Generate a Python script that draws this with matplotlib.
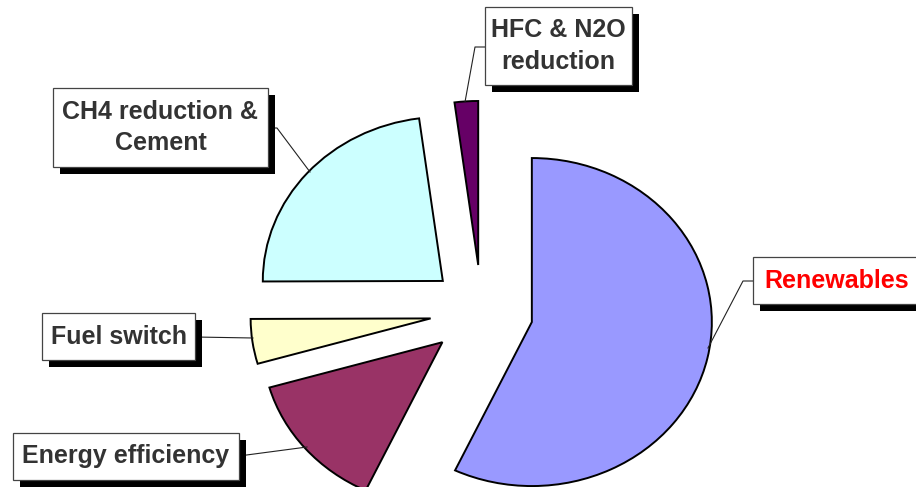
import matplotlib
matplotlib.use("Agg")
import matplotlib.pyplot as plt
from matplotlib.patches import Rectangle
from matplotlib.lines import Line2D

# parts of the abatement, clockwise from 12 o'clock
labels = ["Renewables", "Energy efficiency", "Fuel switch",
          "CH4 reduction &\nCement", "HFC & N2O\nreduction"]
shares = [56.9, 13.5, 4.4, 22.9, 2.1]
colors = ["#9999FF", "#993366", "#FFFFCC", "#CCFFFF", "#660066"]
text_colors = ["#FF0000", "#333333", "#333333", "#333333", "#333333"]

W, H = 916, 487
fig = plt.figure(figsize=(W / 100, H / 100), dpi=100)
ax = fig.add_axes([0, 0, 1, 1])

ax.pie(shares, colors=colors, startangle=90, counterclock=False,
       explode=[0.286] * len(shares),
       wedgeprops=dict(edgecolor="black", linewidth=1.4))

# slightly flattened pie, centre placed in pixels
cx, cy, rx, ry = 481.6, 311.8, 180, 164
ax.set_aspect("auto")
ax.set_xlim(-cx / rx, (W - cx) / rx)
ax.set_ylim((cy - H) / ry, cy / ry)
ax.axis("off")

# label boxes (left, top, right, bottom) in pixels and leader lines
boxes = [(753, 257, 921, 304), (13, 433, 239, 480), (42, 313, 195, 360),
         (53, 88, 268, 167), (485, 7, 632, 85)]
leaders = [[(753, 281), (743, 281), (708, 348)],
           [(239, 456), (307, 447)],
           [(195, 337), (253, 338)],
           [(268, 128), (277, 128), (310, 172)],
           [(485, 47), (475, 47), (465, 102)]]


def fx(px):
    return px / W


def fy(py):
    return 1 - py / H


for pts in leaders:
    fig.add_artist(Line2D([fx(p[0]) for p in pts], [fy(p[1]) for p in pts],
                          color="#222222", lw=0.8, zorder=3))

shadow = 7
for (l, t, r, b), lab, tc in zip(boxes, labels, text_colors):
    fig.add_artist(Rectangle((fx(l + shadow), fy(b + shadow)), (r - l) / W, (b - t) / H,
                             facecolor="black", edgecolor="none", zorder=4))
    fig.add_artist(Rectangle((fx(l), fy(b)), (r - l) / W, (b - t) / H,
                             facecolor="white", edgecolor="#444444", lw=0.9, zorder=5))
    fig.text(fx((l + r) / 2), fy((t + b) / 2), lab, ha="center", va="center",
             color=tc, fontsize=18, fontweight="bold", family="Liberation Sans",
             linespacing=1.4, zorder=6)

fig.savefig("out.png", dpi=100)
